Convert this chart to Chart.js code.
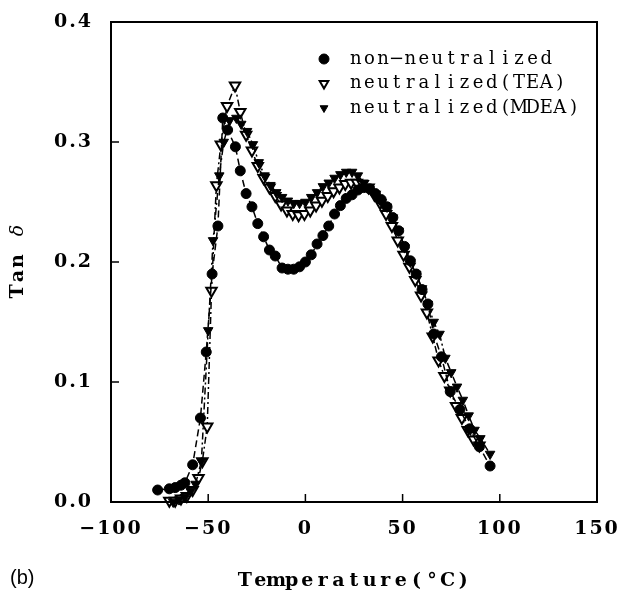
<!DOCTYPE html>
<html>
<head>
<meta charset="utf-8">
<script src="https://cdn.jsdelivr.net/npm/chart.js@4.4.1/dist/chart.umd.min.js"></script>
<style>
  html, body { margin: 0; padding: 0; background: #fff; }
  #wrap { width: 623px; height: 597px; }
</style>
</head>
<body>
<div id="wrap"><canvas id="tan_plot"></canvas></div>
<script>
// non-neutralized (filled circles)
const tempNon = [-76, -70, -67, -64, -62, -58, -54, -51, -48, -45, -42.5, -40, -36, -33.5, -30.5, -27.5, -24.5, -21.5, -18.5, -15.5, -12, -9, -6, -3, 0, 3, 6, 9, 12, 15, 18, 21, 24, 27, 30, 33, 36, 39, 42, 45, 48, 51, 54, 57, 60, 63, 66, 70, 74.5, 79.5, 84.5, 89.5, 95];
const tanNon = [0.010, 0.011, 0.012, 0.014, 0.016, 0.031, 0.070, 0.125, 0.190, 0.230, 0.320, 0.310, 0.296, 0.276, 0.257, 0.246, 0.232, 0.221, 0.210, 0.205, 0.195, 0.194, 0.194, 0.196, 0.200, 0.206, 0.215, 0.222, 0.230, 0.240, 0.247, 0.253, 0.256, 0.260, 0.262, 0.261, 0.257, 0.252, 0.246, 0.237, 0.226, 0.213, 0.201, 0.190, 0.177, 0.165, 0.140, 0.121, 0.092, 0.077, 0.061, 0.046, 0.030];

// neutralized (TEA) (open down triangles)
const tempTEA = [-70, -67, -64, -61, -58, -55, -53, -50.5, -48.3, -45.8, -43.5, -40.3, -36.2, -33.5, -30.5, -27.5, -24.5, -21.5, -18.5, -15.5, -12.5, -9.5, -6.5, -3.5, -0.5, 2.5, 5.5, 8.5, 11.5, 14.5, 17.5, 20.5, 23.5, 26.5, 29.5, 32.5, 35.5, 38.5, 41.5, 44.5, 47.5, 50.5, 53.5, 56.5, 59.5, 62.5, 65.5, 68.5, 71.5, 74.5, 77.5, 80.5, 83.5, 86.5, 89.5];
const tanTEA = [0.001, 0.001, 0.003, 0.005, 0.010, 0.020, 0.034, 0.063, 0.176, 0.264, 0.298, 0.330, 0.347, 0.325, 0.306, 0.293, 0.280, 0.270, 0.262, 0.255, 0.248, 0.243, 0.240, 0.239, 0.240, 0.243, 0.247, 0.251, 0.255, 0.259, 0.262, 0.265, 0.266, 0.266, 0.265, 0.262, 0.256, 0.249, 0.240, 0.230, 0.218, 0.206, 0.196, 0.185, 0.172, 0.158, 0.138, 0.118, 0.105, 0.093, 0.080, 0.070, 0.060, 0.052, 0.047];

// neutralized (MDEA) (filled down triangles)
const tempMDEA = [-68, -65, -62, -59, -56.5, -53.5, -50, -47.5, -44.3, -42, -39, -35.5, -33, -30, -27, -24, -21, -18, -15, -12, -9, -6, -3, 0, 3, 6, 9, 12, 15, 18, 21, 24, 27, 30, 33, 36, 39, 42, 45, 48, 51, 54, 57, 60, 63, 66, 69, 72, 75, 78, 81, 84, 87, 90, 95];
const tanMDEA = [0.000, 0.002, 0.004, 0.009, 0.015, 0.034, 0.143, 0.218, 0.272, 0.300, 0.318, 0.320, 0.315, 0.309, 0.298, 0.283, 0.272, 0.264, 0.258, 0.254, 0.251, 0.249, 0.249, 0.250, 0.254, 0.258, 0.263, 0.266, 0.270, 0.273, 0.275, 0.275, 0.272, 0.266, 0.261, 0.255, 0.250, 0.246, 0.237, 0.226, 0.212, 0.200, 0.190, 0.178, 0.165, 0.150, 0.140, 0.120, 0.108, 0.096, 0.085, 0.072, 0.060, 0.053, 0.040];

const seriesNames = ["non\u2212neutralized", "neutralized(TEA)", "neutralized(MDEA)"];
const xTickVals = [-100, -50, 0, 50, 100, 150];
const yTickVals = [0.0, 0.1, 0.2, 0.3, 0.4];

const pts = (xs, ys) => xs.map((x, i) => ({ x: x, y: ys[i] }));
const SERIF = "'DejaVu Serif', 'Liberation Serif', serif";

// typewriter look: each glyph centred in a fixed cell
function drawMono(ctx, text, x, y, cell) {
  [...text].forEach((ch, i) => ctx.fillText(ch, x + cell * (i + 0.5), y));
}

const extras = {
  id: "extras",
  beforeDraw(chart) {
    chart.ctx.letterSpacing = "2px";
  },
  afterDraw(chart) {
    const { ctx, chartArea: a } = chart;
    const sx = chart.scales.x, sy = chart.scales.y;
    ctx.save();
    ctx.letterSpacing = "0px";
    ctx.strokeStyle = "#000";
    ctx.lineWidth = 2;
    ctx.strokeRect(a.left, a.top, a.right - a.left, a.bottom - a.top);

    // inward tick marks
    ctx.lineWidth = 1.5;
    ctx.beginPath();
    xTickVals.slice(1, -1).forEach(v => {
      const px = sx.getPixelForValue(v);
      ctx.moveTo(px, a.bottom); ctx.lineTo(px, a.bottom - 8);
    });
    yTickVals.slice(1, -1).forEach(v => {
      const py = sy.getPixelForValue(v);
      ctx.moveTo(a.left, py); ctx.lineTo(a.left + 8, py);
    });
    ctx.stroke();

    // legend inside the plot
    const lx = a.left + 213, ly = a.top + 37;
    chart.data.datasets.forEach((ds, i) => {
      const y = ly + i * 24.5;
      ctx.fillStyle = ds.pointBackgroundColor;
      ctx.strokeStyle = "#000";
      ctx.lineWidth = ds.pointBorderWidth;
      Chart.helpers.drawPoint(ctx, {
        pointStyle: ds.pointStyle,
        rotation: ds.pointRotation || 0,
        radius: i === 2 ? 4.5 : 5,
        borderWidth: ds.pointBorderWidth
      }, lx, y);
      ctx.fillStyle = "#000";
      ctx.font = "18px " + SERIF;
      ctx.textAlign = "center";
      ctx.textBaseline = "middle";
      drawMono(ctx, ds.label, lx + 25, y, 13.6);
    });

    // axis titles
    ctx.fillStyle = "#000";
    ctx.font = "bold 19px " + SERIF;
    ctx.textAlign = "center";
    ctx.textBaseline = "middle";
    const xt = "Temperature(\u00b0C)", xc = 15.6;
    drawMono(ctx, xt, (a.left + a.right) / 2 - xt.length * xc / 2, 581, xc);

    ctx.save();
    ctx.translate(18, 261);
    ctx.rotate(-Math.PI / 2);
    const yc = 15.2, x0 = -2.5 * yc;
    drawMono(ctx, "Tan ", x0, 0, yc);
    ctx.font = "italic 19px " + SERIF;
    ctx.fillText("\u03b4", x0 + 4.5 * yc, 0);
    ctx.restore();

    ctx.font = "20px 'Liberation Sans', Arial, sans-serif";
    ctx.textAlign = "left";
    ctx.fillText("(b)", 10, 578);
    ctx.restore();
  }
};

new Chart(document.getElementById("tan_plot"), {
  type: "line",
  data: {
    datasets: [
      {
        label: seriesNames[0],
        data: pts(tempNon, tanNon),
        borderColor: "#000",
        borderWidth: 1.5,
        borderDash: [7, 4],
        pointStyle: "circle",
        pointRadius: 5,
        pointBackgroundColor: "#000",
        pointBorderColor: "#000",
        pointBorderWidth: 1,
        clip: false,
        order: 1
      },
      {
        label: seriesNames[1],
        data: pts(tempTEA, tanTEA),
        borderColor: "#000",
        borderWidth: 1.5,
        borderDash: [7, 3, 2, 3],
        pointStyle: "triangle",
        pointRotation: 180,
        pointRadius: 6,
        pointBackgroundColor: "#fff",
        pointBorderColor: "#000",
        pointBorderWidth: 2,
        clip: false,
        order: 3
      },
      {
        label: seriesNames[2],
        data: pts(tempMDEA, tanMDEA),
        borderColor: "#000",
        borderWidth: 1.5,
        borderDash: [7, 3, 2, 3],
        pointStyle: "triangle",
        pointRotation: 180,
        pointRadius: 5.5,
        pointBackgroundColor: "#000",
        pointBorderColor: "#000",
        pointBorderWidth: 1,
        clip: false,
        order: 2
      }
    ]
  },
  options: {
    responsive: true,
    maintainAspectRatio: false,
    animation: false,
    layout: { padding: { top: 22, right: 26, left: 0, bottom: 0 } },
    plugins: {
      legend: { display: false },
      tooltip: { enabled: false }
    },
    scales: {
      x: {
        type: "linear",
        min: -100,
        max: 150,
        afterBuildTicks: s => { s.ticks = xTickVals.map(v => ({ value: v })); },
        afterFit: s => { s.height = 95; s.paddingLeft = 0; s.paddingRight = 0; },
        grid: { display: false, drawTicks: false },
        border: { display: true, color: "#000", width: 2 },
        ticks: {
          autoSkip: false,
          maxRotation: 0,
          padding: 16,
          color: "#000",
          font: { family: SERIF, size: 19, weight: "bold" },
          callback: v => String(v).replace("-", "\u2212")
        }
      },
      y: {
        type: "linear",
        min: 0,
        max: 0.4,
        afterBuildTicks: s => { s.ticks = yTickVals.map(v => ({ value: v })); },
        afterFit: s => { s.width = 111; s.paddingTop = 0; s.paddingBottom = 0; },
        grid: { display: false, drawTicks: false },
        border: { display: true, color: "#000", width: 2 },
        ticks: {
          padding: 18,
          color: "#000",
          font: { family: SERIF, size: 19, weight: "bold" },
          callback: v => Number(v).toFixed(1)
        }
      }
    }
  },
  plugins: [extras]
});
</script>
</body>
</html>
